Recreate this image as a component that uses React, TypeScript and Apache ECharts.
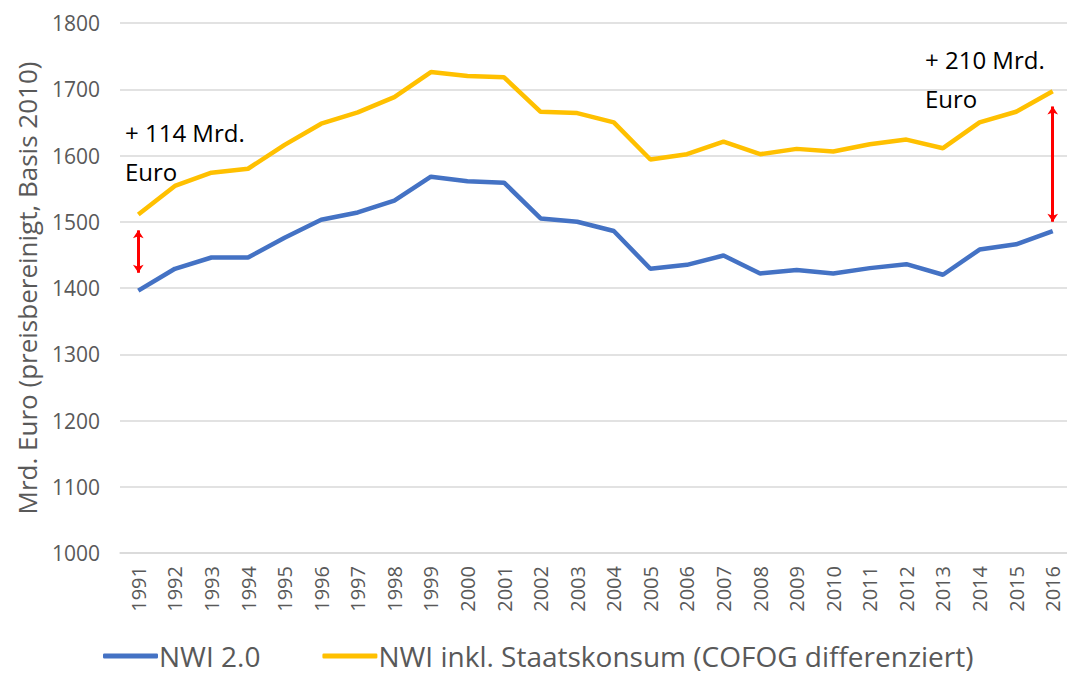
import React, { useEffect, useRef } from "react";
import * as echarts from "echarts";

const years = ["1991","1992","1993","1994","1995","1996","1997","1998","1999","2000","2001","2002","2003","2004","2005","2006","2007","2008","2009","2010","2011","2012","2013","2014","2015","2016"];
const nwi = [1396,1429,1446,1446,1476,1503,1514,1532,1568,1561,1559,1505,1500,1486,1429,1435,1449,1422,1427,1422,1430,1436,1420,1458,1466,1486];
const nwiStaat = [1511,1554,1574,1580,1616,1648,1665,1688,1726,1720,1718,1666,1664,1650,1594,1602,1621,1602,1610,1606,1617,1624,1611,1650,1666,1697];
const seriesNames = ["NWI 2.0", "NWI inkl. Staatskonsum (COFOG differenziert)"];
const yAxisName = "Mrd. Euro (preisbereinigt, Basis 2010)";
const leftArrow = { year: "1991", from: 1487, to: 1423 };
const rightArrow = { year: "2016", from: 1674, to: 1500 };
const annotations = [
  { lines: ["+ 114 Mrd.", "Euro"], x: 125, y: 120 },
  { lines: ["+ 210 Mrd.", "Euro"], x: 925, y: 47 },
];

const FONT = "'Open Sans', sans-serif";

export default function App() {
  const ref = useRef<HTMLDivElement>(null);
  useEffect(() => {
    if (!ref.current) return;
    const chart = echarts.init(ref.current, null, { renderer: "svg" });
    const graphics: any[] = [];
    annotations.forEach((a) => {
      a.lines.forEach((t, i) => {
        graphics.push({
          type: "text",
          left: a.x,
          top: a.y + i * 39,
          style: { text: t, font: `24px ${FONT}`, fill: "#000" },
        });
      });
    });
    chart.setOption({
      animation: false,
      backgroundColor: "#fff",
      grid: { left: 120, right: 4, top: 23, bottom: 122 },
      xAxis: {
        type: "category",
        data: years,
        boundaryGap: true,
        axisLine: { show: true, lineStyle: { color: "#d9d9d9", width: 1.5 } },
        axisTick: { show: false },
        axisLabel: { rotate: 90, fontSize: 20, color: "#595959", fontFamily: FONT, margin: 13, interval: 0 },
      },
      yAxis: {
        type: "value",
        min: 1000,
        max: 1800,
        interval: 100,
        name: yAxisName,
        nameLocation: "middle",
        nameGap: 80,
        nameTextStyle: { fontSize: 26, color: "#595959", fontFamily: FONT },
        axisLine: { show: false },
        axisTick: { show: false },
        splitLine: { lineStyle: { color: "#d9d9d9", width: 1.5 } },
        axisLabel: { fontSize: 21, color: "#595959", fontFamily: FONT, margin: 20, formatter: (v: number) => String(v) },
      },
      legend: {
        bottom: 0,
        left: 98,
        itemWidth: 55,
        itemHeight: 5,
        itemGap: 62,
        icon: "roundRect",
        textStyle: { fontSize: 28, color: "#595959", fontFamily: FONT, padding: [0, 0, 0, -4] },
        data: seriesNames,
      },
      graphic: graphics,
      series: [
        {
          name: seriesNames[0],
          type: "line",
          data: nwi,
          symbol: "none",
          lineStyle: { color: "#4472C4", width: 4.5 },
          itemStyle: { color: "#4472C4" },
          markLine: {
            silent: true,
            symbol: ["arrow", "arrow"],
            symbolSize: [8, 8],
            label: { show: false },
            lineStyle: { color: "#ff0000", width: 3, type: "solid" },
            data: [
              [{ coord: [leftArrow.year, leftArrow.from] }, { coord: [leftArrow.year, leftArrow.to] }],
              [{ coord: [rightArrow.year, rightArrow.from] }, { coord: [rightArrow.year, rightArrow.to] }],
            ],
          },
        },
        {
          name: seriesNames[1],
          type: "line",
          data: nwiStaat,
          symbol: "none",
          lineStyle: { color: "#FFC000", width: 4.5 },
          itemStyle: { color: "#FFC000" },
        },
      ],
    });
    return () => chart.dispose();
  }, []);
  return (
    <div
      ref={ref}
      style={{ position: "fixed", left: 0, top: 0, width: 1075, height: 675 }}
    />
  );
}
